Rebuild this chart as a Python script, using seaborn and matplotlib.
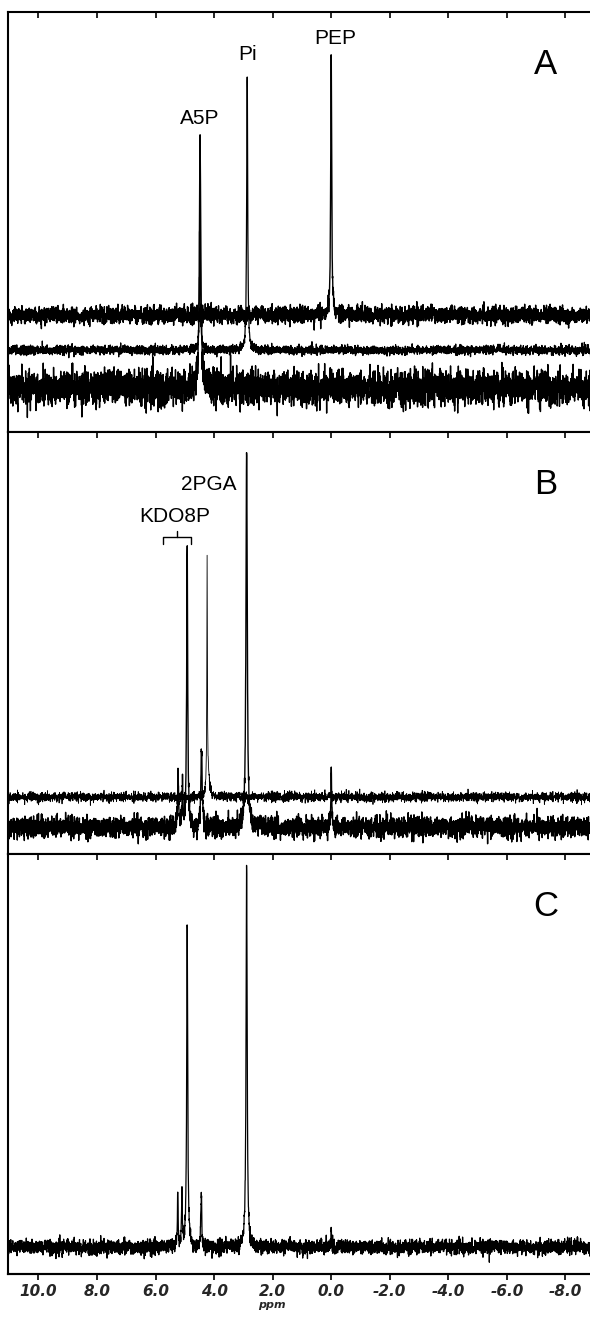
import numpy as np
import pandas as pd
import matplotlib
matplotlib.use("Agg")
import matplotlib.pyplot as plt
import seaborn as sns

# ---------------- data ----------------
# x axis: chemical shift (ppm), reversed
tick_values = [10.0, 8.0, 6.0, 4.0, 2.0, 0.0, -2.0, -4.0, -6.0, -8.0]
tick_labels = ["10.0", "8.0", "6.0", "4.0", "2.0", "0.0", "-2.0", "-4.0", "-6.0", "-8.0"]
x_range = (11.03, -8.86)

# Panel A traces (y in panel units: pixels above the panel bottom)
a1_base, a1_noise = 117, 4.2
a1_pos, a1_height, a1_width = [0.0], [256], [0.02]
a2_base, a2_noise = 82, 2.2
a2_pos, a2_height, a2_width = [2.87, 4.48], [276, 120], [0.02, 0.02]
a3_base, a3_noise = 44, 8.5
a3_pos, a3_height, a3_width = [4.48], [248], [0.03]

# Panel B traces
b1_base, b1_noise = 57, 2.4
b1_pos, b1_height, b1_width = [4.24, 4.21], [225, 25], [0.01, 0.05]
b2_base, b2_noise = 27, 5.2
b2_pos = [5.23, 5.08, 4.92, 4.43, 2.89, 0.0]
b2_height = [52, 45, 279, 79, 381, 65]
b2_width = [0.016, 0.016, 0.02, 0.025, 0.025, 0.014]

# Panel C trace
c_base, c_noise = 27, 3.6
c_pos = [5.24, 5.10, 4.92, 4.44, 2.89, 0.0]
c_height = [54, 51, 322, 50, 381, 12]
c_width = [0.016, 0.016, 0.02, 0.02, 0.022, 0.02]

# annotations: (label, ppm, y)
a_labels = [("A5P", 4.48, 313), ("Pi", 2.87, 378), ("PEP", -0.14, 394)]
b_labels = [("2PGA", 4.17, 369), ("KDO8P", 5.33, 337)]
panel_letters = ["A", "B", "C"]

# ---------------- build spectra ----------------
n_pts = 4400
ppm = np.linspace(x_range[0], x_range[1], n_pts)
rng = np.random.default_rng(7)


def spectrum(base, noise, pos, height, width):
    y = base + rng.normal(0.0, noise, n_pts)
    for p, h, w in zip(pos, height, width):
        y = y + h * w ** 2 / ((ppm - p) ** 2 + w ** 2)
    return pd.DataFrame({"ppm": ppm, "intensity": y})


traces = {
    0: [(spectrum(a1_base, a1_noise, a1_pos, a1_height, a1_width), 1.0),
        (spectrum(a2_base, a2_noise, a2_pos, a2_height, a2_width), 0.9),
        (spectrum(a3_base, a3_noise, a3_pos, a3_height, a3_width), 1.0)],
    1: [(spectrum(b1_base, b1_noise, b1_pos, b1_height, b1_width), 0.6),
        (spectrum(b2_base, b2_noise, b2_pos, b2_height, b2_width), 1.0)],
    2: [(spectrum(c_base, c_noise, c_pos, c_height, c_width), 0.9)],
}

# ---------------- figure ----------------
sns.set_theme(style="white")
plt.rcParams["font.family"] = ["Liberation Sans", "DejaVu Sans"]

W, H = 590, 1317
fig = plt.figure(figsize=(W / 100, H / 100), dpi=100)

panels_px = [(12, 432), (432, 854), (854, 1274)]
left_px = 8.3
axes = []
for i, (top, bot) in enumerate(panels_px):
    ax = fig.add_axes([left_px / W, 1 - bot / H, 1 - left_px / W + 0.001, (bot - top) / H])
    axes.append(ax)
    for df, lw in traces[i]:
        sns.lineplot(data=df, x="ppm", y="intensity", ax=ax, color="black",
                     linewidth=lw, estimator=None, sort=False)
    ax.set_xlim(*x_range)
    ax.set_ylim(0, bot - top)
    ax.set_xlabel("")
    ax.set_ylabel("")
    ax.set_yticks([])
    ax.set_xticks(tick_values)
    ax.tick_params(axis="x", top=True, bottom=False, direction="in", length=4.5,
                   width=1.2, color="black", labelbottom=False, labeltop=False)
    for s in ["left", "top", "bottom"]:
        ax.spines[s].set_visible(True)
        ax.spines[s].set_color("black")
        ax.spines[s].set_linewidth(1.5)
    ax.spines["right"].set_visible(False)
    ax.set_facecolor("white")
    ax.text(-7.32, (bot - top) - 52, panel_letters[i], fontsize=25, ha="center",
            va="center", color="black")

# bottom ticks + labels on panel C
secax = axes[2].secondary_xaxis("bottom")
secax.set_xticks(tick_values)
secax.set_xticklabels(tick_labels)
secax.tick_params(axis="x", direction="out", length=4.5, width=1.2, pad=3, color="black")
for lab in secax.get_xticklabels():
    lab.set_fontfamily("DejaVu Sans")
    lab.set_fontweight("bold")
    lab.set_fontstyle("italic")
    lab.set_fontsize(11)
secax.spines["bottom"].set_linewidth(1.5)

fig.text(272 / W, 1 - 1305 / H, "ppm", fontsize=8, fontweight="bold", fontstyle="italic",
         family="DejaVu Sans", ha="center", va="center")

# peak labels
for txt, x, y in a_labels:
    axes[0].text(x, y, txt, fontsize=15, ha="center", va="center", color="black")
for txt, x, y in b_labels:
    axes[1].text(x, y, txt, fontsize=15, ha="center", va="center", color="black")

# KDO8P bracket
bx = [5.74, 5.74, 4.79, 4.79]
by = [310, 317, 317, 310]
axes[1].plot(bx, by, color="black", lw=1.0)
axes[1].plot([5.28, 5.28], [317, 323], color="black", lw=1.0)

fig.savefig("out.png", dpi=100, facecolor="white")
